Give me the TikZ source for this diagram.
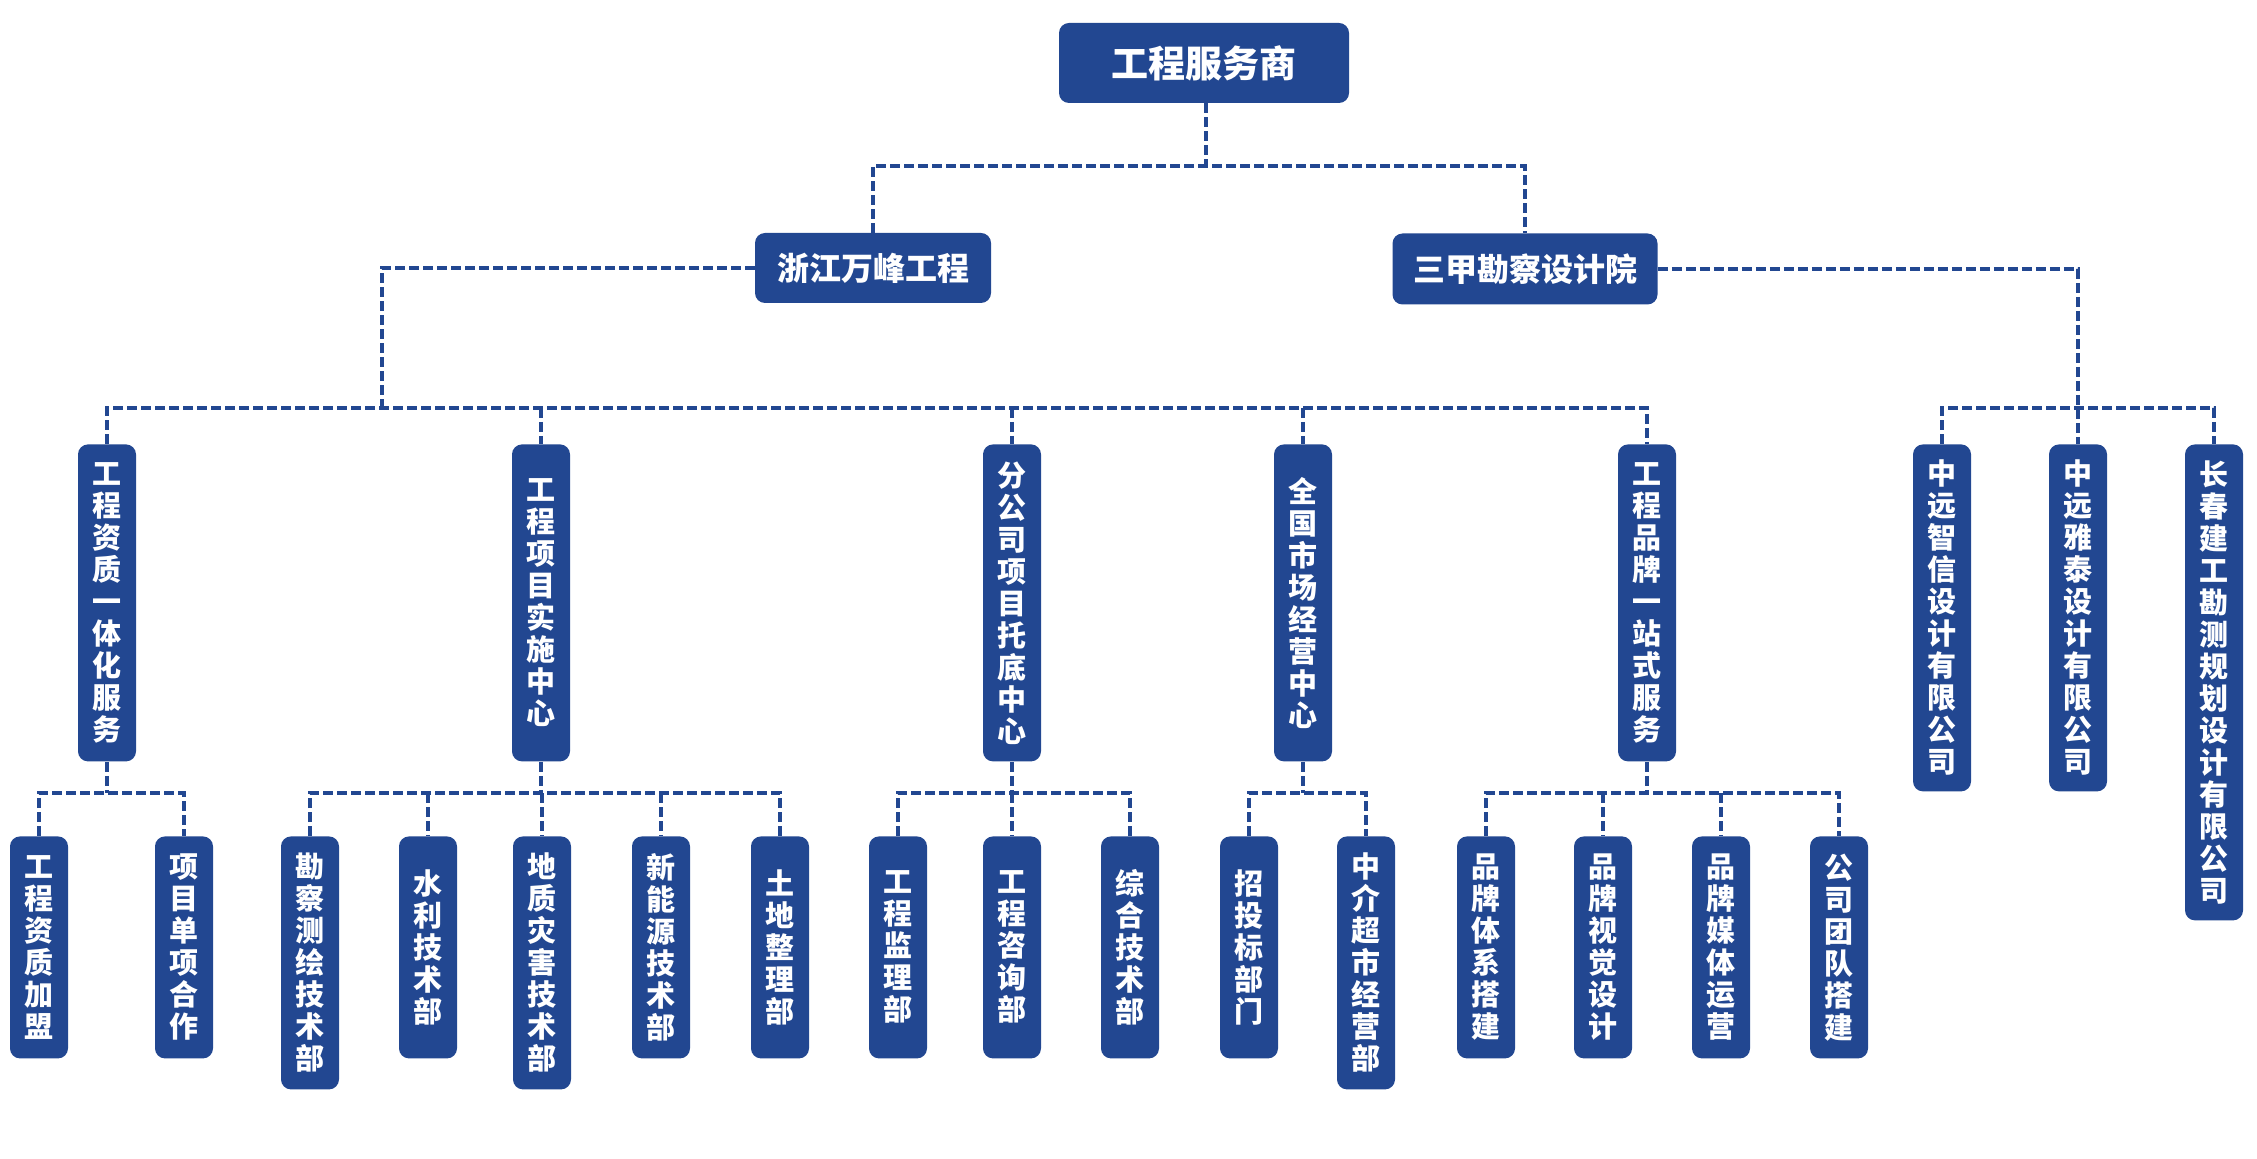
\documentclass[tikz,border=0pt]{standalone}
\usepackage{fontspec}
\setmainfont{Noto Sans CJK SC}
\definecolor{myblue}{RGB}{34,71,145}
\makeatletter
\def\vstack#1{\vst@ck#1\@nil}
\def\vst@ck#1#2\@nil{#1\if\relax\detokenize{#2}\relax\expandafter\@gobble\else\expandafter\@firstofone\fi{\\\vst@ck#2\@nil}}
\makeatother
\tikzset{
  hbox/.style={fill=myblue, rounded corners=5pt, text=white, inner sep=0pt, font=\bfseries},
  vbox/.style={fill=myblue, rounded corners=5pt, text=white, inner sep=0pt, anchor=north,
    minimum width=29pt, align=center, font=\bfseries\fontsize{14.5}{16}\selectfont},
  lv2/.style={vbox, minimum height=158.5pt},
  lvshort/.style={vbox, minimum height=111pt},
  lvlong/.style={vbox, minimum height=126.5pt},
  conn/.style={draw=myblue, line width=2.3pt, dash pattern=on 5pt off 2pt},
}
\begin{document}
\begin{tikzpicture}[x=0.5pt,y=-0.5pt]
\useasboundingbox (0,0) rectangle (2257,1159);
% top levels
\node[hbox, minimum width=145pt, minimum height=40pt, font=\bfseries\fontsize{18.5}{20}\selectfont] (top) at (1204,63) {工程服务商};
\node[hbox, minimum width=118pt, minimum height=35pt, font=\bfseries\fontsize{16}{18}\selectfont] (zj) at (873,268) {浙江万峰工程};
\node[hbox, minimum width=132.5pt, minimum height=35.5pt, font=\bfseries\fontsize{16}{18}\selectfont] (sj) at (1525,269) {三甲勘察设计院};
% level 2
\node[lv2] (c1) at (107,444) {\vstack{工程资质一体化服务}};
\node[lv2] (c2) at (541,444) {\vstack{工程项目实施中心}};
\node[lv2] (c3) at (1012,444) {\vstack{分公司项目托底中心}};
\node[lv2] (c4) at (1303,444) {\vstack{全国市场经营中心}};
\node[lv2] (c5) at (1647,444) {\vstack{工程品牌一站式服务}};
\node[vbox, minimum height=173.5pt] (d1) at (1942,444) {\vstack{中远智信设计有限公司}};
\node[vbox, minimum height=173.5pt] (d2) at (2078,444) {\vstack{中远雅泰设计有限公司}};
\node[vbox, minimum height=238pt] (d3) at (2214,444) {\vstack{长春建工勘测规划设计有限公司}};
% level 3
\node[lvshort] (e1) at (39,836) {\vstack{工程资质加盟}};
\node[lvshort] (e2) at (184,836) {\vstack{项目单项合作}};
\node[lvlong] (f1) at (310,836) {\vstack{勘察测绘技术部}};
\node[lvshort] (f2) at (428,836) {\vstack{水利技术部}};
\node[lvlong] (f3) at (542,836) {\vstack{地质灾害技术部}};
\node[lvshort] (f4) at (661,836) {\vstack{新能源技术部}};
\node[lvshort] (f5) at (780,836) {\vstack{土地整理部}};
\node[lvshort] (g1) at (898,836) {\vstack{工程监理部}};
\node[lvshort] (g2) at (1012,836) {\vstack{工程咨询部}};
\node[lvshort] (g3) at (1130,836) {\vstack{综合技术部}};
\node[lvshort] (h1) at (1249,836) {\vstack{招投标部门}};
\node[lvlong] (h2) at (1366,836) {\vstack{中介超市经营部}};
\node[lvshort] (i1) at (1486,836) {\vstack{品牌体系搭建}};
\node[lvshort] (i2) at (1603,836) {\vstack{品牌视觉设计}};
\node[lvshort] (i3) at (1721,836) {\vstack{品牌媒体运营}};
\node[lvshort] (i4) at (1839,836) {\vstack{公司团队搭建}};
% bus coordinates
\coordinate (b1) at (1206,166);
\coordinate (b2) at (382,408);
\coordinate (b4) at (0,793);
% connectors level 1
\draw[conn] (top.south -| b1) -- (b1);
\draw[conn] (zj.north) -- (zj.north |- b1) -- (sj.north |- b1) -- (sj.north);
% left subtree
\draw[conn] (zj.west) -| (b2);
\draw[conn] (c1.north) -- (c1.north |- b2) -- (c5.north |- b2) -- (c5.north);
\foreach \n in {c2,c3,c4} \draw[conn] (\n.north |- b2) -- (\n.north);
% right subtree
\draw[conn] (sj.east) -| (d2.north);
\draw[conn] (d1.north) -- (d1.north |- b2) -- (d3.north |- b2) -- (d3.north);
% level 3 groups
\draw[conn] (c1.south) -- (c1.south |- b4);
\draw[conn] (e1.north) -- (e1.north |- b4) -- (e2.north |- b4) -- (e2.north);
\draw[conn] (c2.south) -- (c2.south |- b4);
\draw[conn] (f1.north) -- (f1.north |- b4) -- (f5.north |- b4) -- (f5.north);
\foreach \n in {f2,f3,f4} \draw[conn] (\n.north |- b4) -- (\n.north);
\draw[conn] (c3.south) -- (c3.south |- b4);
\draw[conn] (g1.north) -- (g1.north |- b4) -- (g3.north |- b4) -- (g3.north);
\draw[conn] (g2.north |- b4) -- (g2.north);
\draw[conn] (c4.south) -- (c4.south |- b4);
\draw[conn] (h1.north) -- (h1.north |- b4) -- (h2.north |- b4) -- (h2.north);
\draw[conn] (c5.south) -- (c5.south |- b4);
\draw[conn] (i1.north) -- (i1.north |- b4) -- (i4.north |- b4) -- (i4.north);
\foreach \n in {i2,i3} \draw[conn] (\n.north |- b4) -- (\n.north);
\end{tikzpicture}
\end{document}
